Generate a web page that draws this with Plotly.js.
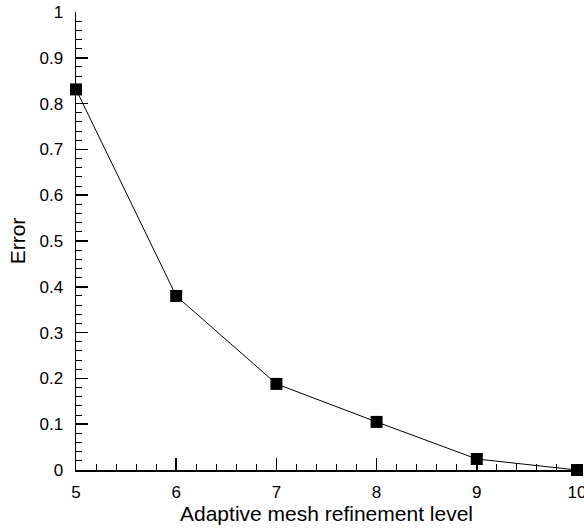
<!DOCTYPE html>
<html>
<head>
<meta charset="utf-8">
<script src="https://cdn.plot.ly/plotly-3.0.1.min.js"></script>
<style>html,body{margin:0;padding:0;background:#fff;overflow:hidden;}#chart{width:584px;height:528px;}</style>
</head>
<body>
<div id="chart"></div>
<script>
const levels = [5, 6, 7, 8, 9, 10];
const errors = [0.831, 0.380, 0.188, 0.105, 0.024, 0.0];
const xTickVals = [5, 6, 7, 8, 9, 10];
const yTickVals = [0, 0.1, 0.2, 0.3, 0.4, 0.5, 0.6, 0.7, 0.8, 0.9, 1];
const yTickText = ['0', '0.1', '0.2', '0.3', '0.4', '0.5', '0.6', '0.7', '0.8', '0.9', '1'];

const trace = {
  x: levels, y: errors, type: 'scatter', mode: 'lines+markers',
  line: {color: '#000', width: 1},
  marker: {symbol: 'square', size: 12, color: '#000'},
  cliponaxis: false, showlegend: false
};
const fam = 'Liberation Sans, Arial, sans-serif';
const layout = {
  width: 584, height: 528,
  margin: {l: 76, r: 7, t: 12, b: 58},
  paper_bgcolor: '#fff', plot_bgcolor: '#fff',
  font: {family: fam, color: '#000'},
  xaxis: {
    range: [5, 10], tickvals: xTickVals, ticks: 'inside', ticklen: 12, tickwidth: 1.5, tickcolor: '#000',
    showline: true, linecolor: '#000', linewidth: 1.5, showgrid: false, zeroline: false,
    tickfont: {size: 17, family: fam, color: '#000'}, ticklabelstandoff: 6, ticklabeloverflow: 'allow',
    minor: {dtick: 0.2, ticks: 'inside', ticklen: 6, tickwidth: 1, tickcolor: '#000', showgrid: false},
    title: {text: 'Adaptive mesh refinement level', font: {size: 21, family: fam, color: '#000'}, standoff: 4}
  },
  yaxis: {
    range: [0, 1], tickvals: yTickVals, ticktext: yTickText, ticks: 'inside', ticklen: 12, tickwidth: 1.5, tickcolor: '#000',
    showline: true, linecolor: '#000', linewidth: 1.5, showgrid: false, zeroline: false,
    tickfont: {size: 17, family: fam, color: '#000'}, ticklabelstandoff: 8, ticklabeloverflow: 'allow',
    minor: {dtick: 0.02, ticks: 'inside', ticklen: 6, tickwidth: 1, tickcolor: '#000', showgrid: false},
    title: {text: 'Error', font: {size: 21, family: fam, color: '#000'}, standoff: 8}
  }
};
Plotly.newPlot('chart', [trace], layout, {staticPlot: true, displayModeBar: false});
</script>
</body>
</html>
